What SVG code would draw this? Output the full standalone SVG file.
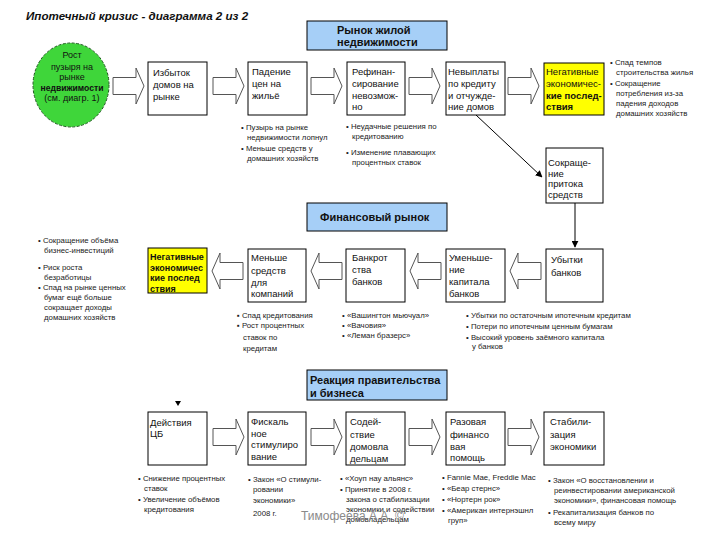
<svg xmlns="http://www.w3.org/2000/svg" width="720" height="540" viewBox="0 0 720 540">
<style>
  text { font-family: "Liberation Sans", Arial, sans-serif; fill: #111; }
  .title { font-size: 11.6px; font-weight: bold; font-style: italic; }
  .hdr { font-size: 11px; font-weight: bold; }
  .bx { font-size: 9.5px; }
  .bxb { font-size: 9.5px; font-weight: bold; }
  .bul { font-size: 7.8px; fill: #222; }
  .box { fill: #fff; stroke: #000; stroke-width: 1; }
  .yel { fill: #ffff00; stroke: #000; stroke-width: 1; }
  .head { fill: #a6cff7; stroke: #000; stroke-width: 1; }
  .harr { fill: #fff; stroke: #555; stroke-width: 1; }
  .wm { font-size: 12px; fill: #8a8a8a; }
</style>
<defs>
  <path id="arrR" d="M0,-8.5 H23 V-18 L31,0 L23,18 V8.5 H0 Z"/>
  <path id="arrL" d="M31,-8.5 H8 V-18 L0,0 L8,18 V8.5 H31 Z"/>
  <marker id="tip" viewBox="0 0 10 10" refX="9" refY="5" markerWidth="7" markerHeight="7" orient="auto" markerUnits="userSpaceOnUse">
    <path d="M0,0 L10,5 L0,10 Z" fill="#000"/>
  </marker>
</defs>
<rect width="720" height="540" fill="#fff"/>

<text class="title" x="26" y="20">Ипотечный кризис - диаграмма 2 из 2</text>

<!-- Section headers -->
<g id="hdr-housing">
  <rect class="head" x="307" y="21" width="140" height="29"/>
  <text class="hdr" x="337" y="34">Рынок жилой</text>
  <text class="hdr" x="337" y="46">недвижимости</text>
</g>
<g id="hdr-finance">
  <rect class="head" x="307" y="203" width="140" height="28"/>
  <text class="hdr" x="320" y="221">Финансовый рынок</text>
</g>
<g id="hdr-reaction">
  <rect class="head" x="307" y="370" width="140" height="30"/>
  <text class="hdr" x="310" y="384">Реакция правительства</text>
  <text class="hdr" x="310" y="397">и бизнеса</text>
</g>

<!-- Connectors -->
<g id="connectors">
  <use href="#arrR" class="harr" x="113" y="86"/>
  <use href="#arrR" class="harr" x="213" y="86"/>
  <use href="#arrR" class="harr" x="311" y="86"/>
  <use href="#arrR" class="harr" x="409" y="86"/>
  <use href="#arrR" class="harr" x="508" y="86"/>
  <line x1="476" y1="115" x2="542" y2="177" stroke="#000" stroke-width="1" marker-end="url(#tip)"/>
  <line x1="575" y1="203" x2="575" y2="247" stroke="#000" stroke-width="1" marker-end="url(#tip)"/>
  <use href="#arrL" class="harr" x="510" y="271"/>
  <use href="#arrL" class="harr" x="410" y="271"/>
  <use href="#arrL" class="harr" x="311" y="271"/>
  <use href="#arrL" class="harr" x="212" y="271"/>
  <path d="M175,401 L181,401 L178,406 Z" fill="#000"/>
  <use href="#arrR" class="harr" x="213" y="437"/>
  <use href="#arrR" class="harr" x="311" y="437"/>
  <use href="#arrR" class="harr" x="409" y="437"/>
  <use href="#arrR" class="harr" x="508" y="437"/>
</g>

<!-- Top row -->
<g id="n-bubble">
  <ellipse cx="71" cy="85" rx="38" ry="42" fill="#3fd63a" stroke="#1f5a1f" stroke-width="1" stroke-dasharray="3,1.5"/>
  <text class="bx" text-anchor="middle" x="72" y="58" style="font-size:9px">Рост</text>
  <text class="bx" text-anchor="middle" x="72" y="70" style="font-size:9px">пузыря на</text>
  <text class="bx" text-anchor="middle" x="72" y="80" style="font-size:9px">рынке</text>
  <text class="bxb" text-anchor="middle" x="72" y="91" style="font-size:8.6px">недвижимости</text>
  <text class="bx" text-anchor="middle" x="72" y="101" style="font-size:9px">(см. диагр. 1)</text>
</g>
<g id="n-surplus">
  <rect class="box" x="148" y="62" width="59" height="53"/>
  <text class="bx" x="153" y="76">Избыток</text>
  <text class="bx" x="153" y="88">домов на</text>
  <text class="bx" x="153" y="100">рынке</text>
</g>
<g id="n-prices">
  <rect class="box" x="248" y="62" width="59" height="53"/>
  <text class="bx" x="252" y="75">Падение</text>
  <text class="bx" x="252" y="87">цен на</text>
  <text class="bx" x="252" y="99">жильё</text>
  <text class="bul" x="241" y="130">• Пузырь на рынке</text>
  <text class="bul" x="247" y="140">недвижимости лопнул</text>
  <text class="bul" x="241" y="151">• Меньше средств у</text>
  <text class="bul" x="247" y="161">домашних хозяйств</text>
</g>
<g id="n-refi">
  <rect class="box" x="347" y="62" width="58" height="53"/>
  <text class="bx" x="352" y="75">Рефинан-</text>
  <text class="bx" x="352" y="87">сирование</text>
  <text class="bx" x="352" y="99">невозмож-</text>
  <text class="bx" x="352" y="110">но</text>
  <text class="bul" x="346" y="129">• Неудачные решения по</text>
  <text class="bul" x="352" y="139">кредитованию</text>
  <text class="bul" x="346" y="155">• Изменение плавающих</text>
  <text class="bul" x="352" y="165">процентных ставок</text>
</g>
<g id="n-default">
  <rect class="box" x="446" y="62" width="59" height="53"/>
  <text class="bx" x="448" y="75">Невыплаты</text>
  <text class="bx" x="448" y="87">по кредиту</text>
  <text class="bx" x="448" y="99">и отчужде-</text>
  <text class="bx" x="448" y="110">ние домов</text>
</g>
<g id="n-neg1">
  <rect class="yel" x="544" y="63" width="60" height="52"/>
  <text class="bx" x="546" y="75">Негативные</text>
  <text class="bx" x="546" y="87">экономичес-</text>
  <text class="bxb" x="546" y="99">кие послед-</text>
  <text class="bxb" x="546" y="110">ствия</text>
  <text class="bul" x="610" y="65">• Спад темпов</text>
  <text class="bul" x="616" y="75">строительства жилья</text>
  <text class="bul" x="610" y="86">• Сокращение</text>
  <text class="bul" x="616" y="96">потребления из-за</text>
  <text class="bul" x="616" y="106">падения доходов</text>
  <text class="bul" x="616" y="116">домашних хозяйств</text>
</g>
<g id="n-inflow">
  <rect class="box" x="546" y="148" width="57" height="55"/>
  <text class="bx" x="548" y="166">Сокраще-</text>
  <text class="bx" x="548" y="177">ние</text>
  <text class="bx" x="548" y="187">притока</text>
  <text class="bx" x="548" y="198">средств</text>
</g>

<!-- Middle row -->
<g id="n-losses">
  <rect class="box" x="546" y="249" width="57" height="53"/>
  <text class="bx" x="551" y="263">Убытки</text>
  <text class="bx" x="551" y="276">банков</text>
</g>
<g id="n-capital">
  <rect class="box" x="446" y="249" width="59" height="53"/>
  <text class="bx" x="449" y="261">Уменьше-</text>
  <text class="bx" x="449" y="273">ние</text>
  <text class="bx" x="449" y="285">капитала</text>
  <text class="bx" x="449" y="297">банков</text>
  <text class="bul" x="466" y="318">• Убытки по остаточным ипотечным кредитам</text>
  <text class="bul" x="466" y="329">• Потери по ипотечным ценным бумагам</text>
  <text class="bul" x="466" y="340">• Высокий уровень заёмного капитала</text>
  <text class="bul" x="472" y="349">у банков</text>
</g>
<g id="n-bankrupt">
  <rect class="box" x="346" y="249" width="59" height="53"/>
  <text class="bx" x="352" y="261">Банкрот</text>
  <text class="bx" x="352" y="273">ства</text>
  <text class="bx" x="352" y="285">банков</text>
  <text class="bul" x="342" y="318">• «Вашингтон мьючуал»</text>
  <text class="bul" x="342" y="328">• «Вачовия»</text>
  <text class="bul" x="342" y="338">• «Леман бразерс»</text>
</g>
<g id="n-companies">
  <rect class="box" x="248" y="249" width="58" height="53"/>
  <text class="bx" x="251" y="261">Меньше</text>
  <text class="bx" x="251" y="274">средств</text>
  <text class="bx" x="251" y="286">для</text>
  <text class="bx" x="251" y="297">компаний</text>
  <text class="bul" x="237" y="318">▪ Спад кредитования</text>
  <text class="bul" x="237" y="328">▪ Рост процентных</text>
  <text class="bul" x="243" y="340">ставок по</text>
  <text class="bul" x="243" y="351">кредитам</text>
</g>
<g id="n-neg2">
  <rect class="yel" x="148" y="248" width="59" height="45"/>
  <text class="bxb" x="150" y="260" style="font-size:9px">Негативные</text>
  <text class="bxb" x="150" y="271" style="font-size:9px">экономичес</text>
  <text class="bxb" x="150" y="281" style="font-size:9px">кие послед</text>
  <text class="bxb" x="150" y="292" style="font-size:9px">ствия</text>
  <text class="bul" x="38" y="243">• Сокращение объёма</text>
  <text class="bul" x="44" y="253">бизнес-инвестиций</text>
  <text class="bul" x="38" y="270">• Риск роста</text>
  <text class="bul" x="44" y="280">безработицы</text>
  <text class="bul" x="38" y="290">• Спад на рынке ценных</text>
  <text class="bul" x="44" y="300">бумаг ещё больше</text>
  <text class="bul" x="44" y="310">сокращает доходы</text>
  <text class="bul" x="44" y="320">домашних хозяйств</text>
</g>

<!-- Bottom row -->
<g id="n-cb">
  <rect class="box" x="148" y="412" width="59" height="53"/>
  <text class="bx" x="150" y="426">Действия</text>
  <text class="bx" x="150" y="437">ЦБ</text>
  <text class="bul" x="138" y="481">• Снижение процентных</text>
  <text class="bul" x="144" y="491">ставок</text>
  <text class="bul" x="138" y="502">• Увеличение объёмов</text>
  <text class="bul" x="144" y="512">кредитования</text>
</g>
<g id="n-fiscal">
  <rect class="box" x="248" y="412" width="58" height="53"/>
  <text class="bx" x="251" y="425">Фискаль</text>
  <text class="bx" x="251" y="437">ное</text>
  <text class="bx" x="251" y="448">стимулиро</text>
  <text class="bx" x="251" y="460">вание</text>
  <text class="bul" x="248" y="482">• Закон «О стимули-</text>
  <text class="bul" x="253" y="492">ровании</text>
  <text class="bul" x="253" y="503">экономики»</text>
  <text class="bul" x="253" y="516">2008 г.</text>
</g>
<g id="n-homeowners">
  <rect class="box" x="346" y="412" width="59" height="53"/>
  <text class="bx" x="350" y="425">Содей-</text>
  <text class="bx" x="350" y="438">ствие</text>
  <text class="bx" x="350" y="450">домовла</text>
  <text class="bx" x="350" y="462">дельцам</text>
  <text class="bul" x="340" y="481">• «Хоуп нау альянс»</text>
  <text class="bul" x="340" y="492">• Принятие в 2008 г.</text>
  <text class="bul" x="346" y="502">закона о стабилизации</text>
  <text class="bul" x="346" y="512">экономики и содействии</text>
  <text class="bul" x="346" y="522">домовладельцам</text>
</g>
<g id="n-aid">
  <rect class="box" x="446" y="412" width="59" height="53"/>
  <text class="bx" x="450" y="425">Разовая</text>
  <text class="bx" x="450" y="438">финансо</text>
  <text class="bx" x="450" y="450">вая</text>
  <text class="bx" x="450" y="461">помощь</text>
  <text class="bul" x="442" y="480">• Fannie Mae, Freddie Mac</text>
  <text class="bul" x="442" y="491">• «Беар стернс»</text>
  <text class="bul" x="442" y="502">• «Нортерн рок»</text>
  <text class="bul" x="442" y="513">• «Американ интернэшнл</text>
  <text class="bul" x="448" y="523">груп»</text>
</g>
<g id="n-stab">
  <rect class="box" x="544" y="412" width="60" height="53"/>
  <text class="bx" x="550" y="425">Стабили-</text>
  <text class="bx" x="550" y="438">зация</text>
  <text class="bx" x="550" y="450">экономики</text>
  <text class="bul" x="548" y="483">• Закон «О восстановлении и</text>
  <text class="bul" x="554" y="493">реинвестировании американской</text>
  <text class="bul" x="554" y="503">экономики», финансовая помощь</text>
  <text class="bul" x="548" y="515">• Рекапитализация банков по</text>
  <text class="bul" x="554" y="525">всему миру</text>
</g>

<text class="wm" x="301" y="520">Тимофеева А.А. ©</text>
</svg>
